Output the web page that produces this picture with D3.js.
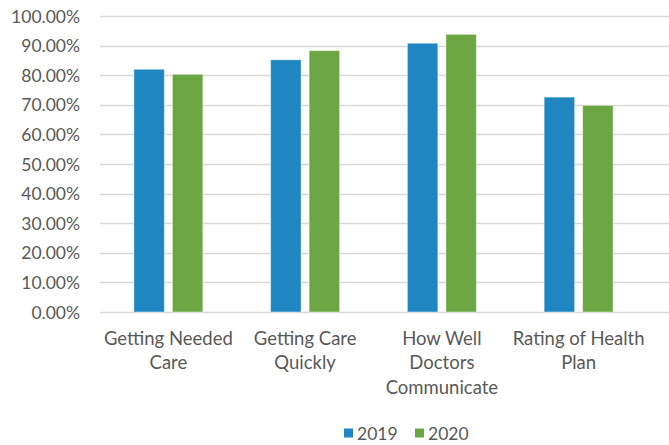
<!DOCTYPE html>
<html>
<head>
<meta charset="utf-8">
<script src="https://cdn.jsdelivr.net/npm/d3@7"></script>
<style>
  html, body { margin: 0; padding: 0; background: #fff; }
  svg { display: block; }
  text { font-family: Lato, "Open Sans", sans-serif; fill: #595959; }
</style>
</head>
<body>
<svg id="chart" width="669" height="445"></svg>
<script>
const categories = [
  ["Getting Needed", "Care"],
  ["Getting Care", "Quickly"],
  ["How Well", "Doctors", "Communicate"],
  ["Rating of Health", "Plan"]
];
const seriesNames = ["2019", "2020"];
const values2019 = [0.820, 0.852, 0.908, 0.726];
const values2020 = [0.803, 0.883, 0.938, 0.698];
const yTicks = [0, 0.1, 0.2, 0.3, 0.4, 0.5, 0.6, 0.7, 0.8, 0.9, 1.0];
const colors = ["#1F86C1", "#6CA643"];

const svg = d3.select("#chart");
const W = 669;
const plot = { left: 100, right: 647, top: 16, bottom: 312 };

const catKeys = categories.map(c => c.join(" "));
const x0 = d3.scaleBand().domain(catKeys).range([plot.left, plot.right]).padding(0);
const inner = 69;
const off = (x0.bandwidth() - inner) / 2;
const x1 = d3.scaleBand().domain(seriesNames).range([off, off + inner]).paddingInner(0.208).paddingOuter(0);
const y = d3.scaleLinear().domain([0, 1]).range([plot.bottom, plot.top]);
const color = d3.scaleOrdinal().domain(seriesNames).range(colors);

// gridlines
svg.append("g").selectAll("line").data(yTicks).join("line")
  .attr("x1", plot.left).attr("x2", W)
  .attr("y1", d => Math.round(y(d)) + 0.5).attr("y2", d => Math.round(y(d)) + 0.5)
  .attr("stroke", "#d9d9d9").attr("stroke-width", 1.4);

// y tick labels
const fmt = d3.format(".2%");
svg.append("g").selectAll("text").data(yTicks).join("text")
  .attr("x", 80).attr("y", d => y(d))
  .attr("text-anchor", "end").attr("dominant-baseline", "central")
  .attr("font-size", 17.5)
  .text(d => fmt(d));

// bars
const rows = catKeys.map((k, i) => ({ key: k, vals: [values2019[i], values2020[i]] }));
const groups = svg.append("g").selectAll("g").data(rows).join("g")
  .attr("transform", d => `translate(${x0(d.key)},0)`);
groups.selectAll("rect").data(d => d.vals.map((v, j) => ({ s: seriesNames[j], v })))
  .join("rect")
  .attr("x", d => x1(d.s)).attr("width", x1.bandwidth())
  .attr("y", d => y(d.v)).attr("height", d => y(0) - y(d.v))
  .attr("fill", d => color(d.s))
  .attr("stroke", "rgba(255,255,255,0.45)").attr("stroke-width", 1);

// category labels
const lab = svg.append("g").selectAll("text").data(categories).join("text")
  .attr("text-anchor", "middle").attr("font-size", 18.5)
  .attr("x", (d, i) => x0(catKeys[i]) + x0.bandwidth() / 2)
  .attr("y", 344.5);
lab.selectAll("tspan").data(d => d).join("tspan")
  .attr("x", function() { return d3.select(this.parentNode).attr("x"); })
  .attr("dy", (d, i) => i === 0 ? 0 : 24.5)
  .text(d => d);

// legend
const legend = svg.append("g");
const legendItems = [{ s: "2019", x: 344 }, { s: "2020", x: 415 }];
const li = legend.selectAll("g").data(seriesNames).join("g")
  .attr("transform", (d, i) => `translate(${legendItems[i].x},433)`);
li.append("rect").attr("x", 0).attr("y", -4.5).attr("width", 9).attr("height", 9)
  .attr("fill", d => color(d));
li.append("text").attr("x", 13).attr("y", 0).attr("dominant-baseline", "central")
  .attr("font-size", 17.5).text(d => d);
</script>
</body>
</html>
